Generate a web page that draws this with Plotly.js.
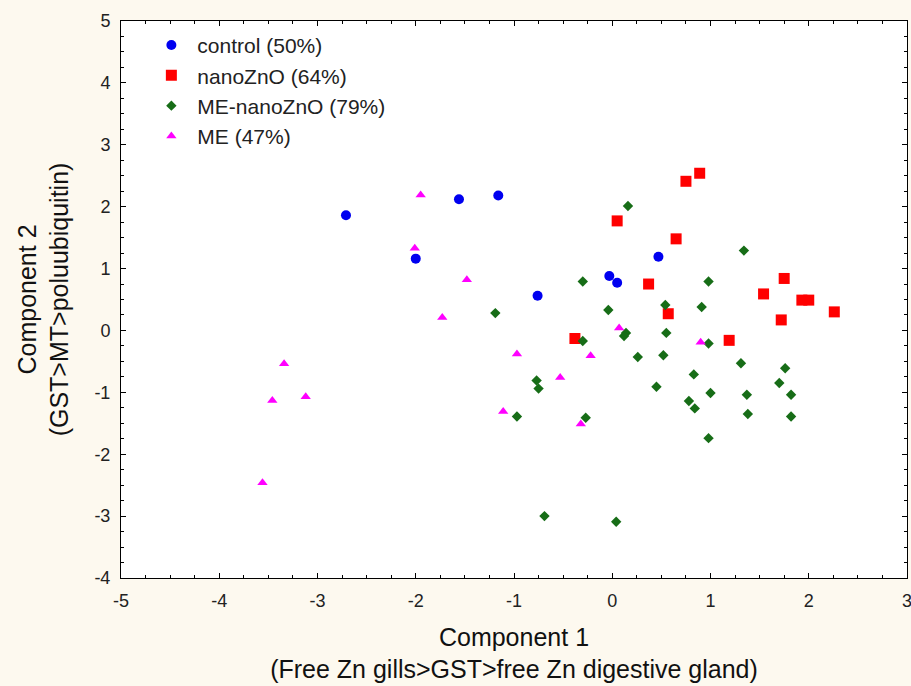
<!DOCTYPE html>
<html>
<head>
<meta charset="utf-8">
<script src="https://cdn.plot.ly/plotly-3.0.1.min.js"></script>
<style>
html,body{margin:0;padding:0;background:#fdf9ef;}
#chart{width:911px;height:686px;}
</style>
</head>
<body>
<div id="chart"></div>
<script>
// Series names (legend labels)
const seriesNames = ["control (50%)", "nanoZnO (64%)", "ME-nanoZnO (79%)", "ME (47%)"];

// control
const controlX = [-2.71, -2.00, -1.56, -1.16, -0.76, -0.03, 0.05, 0.47];
const controlY = [1.86, 1.16, 2.12, 2.18, 0.56, 0.88, 0.77, 1.19];

// nanoZnO
const nanoX = [0.89, 0.75, 0.05, 0.65, 0.37, 0.57, -0.38, 1.75, 1.54, 1.93, 2.00, 2.26, 1.72, 1.19];
const nanoY = [2.54, 2.41, 1.77, 1.48, 0.75, 0.27, -0.13, 0.84, 0.59, 0.49, 0.49, 0.30, 0.17, -0.16];

// ME-nanoZnO
const menanoX = [-1.19, -0.30, -0.77, -0.75, -0.97, -0.27, -0.69, 0.16, -0.30, 0.98, -0.04, 0.54, 0.91,
                 0.14, 0.12, 0.55, 0.98, 0.26, 0.52, 0.83, 0.45, 1.00, 0.78, 0.84, 0.98, 0.04,
                 1.34, 1.31, 1.76, 1.70, 1.37, 1.82, 1.38, 1.82];
const menanoY = [0.28, -0.17, -0.81, -0.94, -1.39, -1.41, -3.00, 2.01, 0.79, 0.79, 0.33, 0.41, 0.38,
                 -0.04, -0.09, -0.04, -0.21, -0.43, -0.40, -0.71, -0.91, -1.01, -1.14, -1.26, -1.74, -3.09,
                 1.29, -0.53, -0.61, -0.85, -1.04, -1.04, -1.35, -1.39];

// ME
const meX = [-1.95, -2.01, -1.48, -1.73, -0.97, -3.34, -3.46, -3.12, -3.56, -0.22, -0.53, -1.11, -0.32, 0.90, 0.07];
const meY = [2.19, 1.33, 0.82, 0.21, -0.38, -0.54, -1.13, -1.07, -2.46, -0.41, -0.76, -1.31, -1.51, -0.19, 0.04];

// Axis ticks
const xTicks = [-5, -4, -3, -2, -1, 0, 1, 2, 3];
const yTicks = [-4, -3, -2, -1, 0, 1, 2, 3, 4, 5];

const FONT = "Liberation Sans, Arial, sans-serif";

const traces = [
  {x: controlX, y: controlY, name: seriesNames[0], mode: "markers", type: "scatter",
   marker: {symbol: "circle", size: 10, color: "#0000f0"}},
  {x: nanoX, y: nanoY, name: seriesNames[1], mode: "markers", type: "scatter",
   marker: {symbol: "square", size: 11, color: "#ff0000"}},
  {x: menanoX, y: menanoY, name: seriesNames[2], mode: "markers", type: "scatter",
   marker: {symbol: "diamond", size: 8, color: "#176d17"}},
  {x: meX, y: meY, name: seriesNames[3], mode: "markers", type: "scatter",
   marker: {symbol: "triangle-up", size: 9, color: "#ff00ff"}}
];

const axisCommon = {
  showgrid: false, zeroline: false, showline: true, linecolor: "#000", linewidth: 1,
  mirror: "ticks", ticks: "inside", ticklen: 5, tickcolor: "#000", tickwidth: 1,
  ticklabelstandoff: 6, ticklabeloverflow: "allow", automargin: false,
  tickfont: {family: FONT, size: 18, color: "#222"},
  minor: {ticks: "inside", ticklen: 3, tickcolor: "#000", dtick: 0.25, showgrid: false}
};

const layout = {
  width: 911, height: 686,
  paper_bgcolor: "#fdf9ef", plot_bgcolor: "#ffffff",
  margin: {l: 121, r: 4, t: 21, b: 108},
  showlegend: true,
  legend: {x: 0.031, y: 0.993, xanchor: "left", yanchor: "top",
           bgcolor: "rgba(255,255,255,0)", borderwidth: 0,
           font: {family: FONT, size: 21, color: "#222"},
           tracegroupgap: 0, itemwidth: 42},
  xaxis: Object.assign({}, axisCommon, {
    range: [-5, 3], tickmode: "array", tickvals: xTicks, ticktext: xTicks.map(String),
    title: {text: "Component 1<br>(Free Zn gills>GST>free Zn digestive gland)",
            font: {family: FONT, size: 25, color: "#111"}, standoff: 18}
  }),
  yaxis: Object.assign({}, axisCommon, {
    range: [-4, 5], tickmode: "array", tickvals: yTicks, ticktext: yTicks.map(String),
    title: {text: "Component 2<br>(GST>MT>poluubiquitin)",
            font: {family: FONT, size: 25, color: "#111"}, standoff: 18}
  })
};

Plotly.newPlot("chart", traces, layout, {displayModeBar: false, staticPlot: true});
</script>
</body>
</html>
